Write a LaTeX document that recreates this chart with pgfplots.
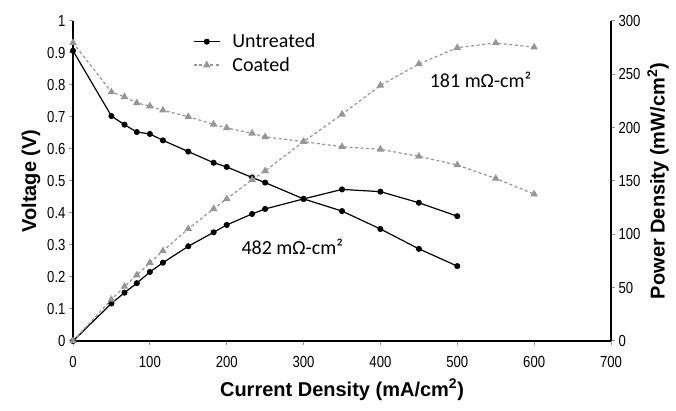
\documentclass[border=0pt]{standalone}
\usepackage{pgfplots}
\pgfplotsset{compat=1.18}
\usepackage{fontspec}
\setmainfont{Liberation Sans}
\newfontfamily\narrowfont[FakeStretch=0.82]{Liberation Sans}
\newfontfamily\carlito{Carlito}
\definecolor{cgray}{RGB}{150,150,150}
\begin{document}
\begin{tikzpicture}
\pgfplotsset{
  every axis/.append style={
    scale only axis, width=538pt, height=320pt,
    xmin=0, xmax=700,
    /pgf/number format/assume math mode=true,
    tick label style={font=\fontsize{16}{16}\selectfont\narrowfont},
    tick align=outside, major tick length=4pt,
    tick style={cgray, line width=1pt},
    axis line style={line width=2.2pt},
    clip=false,
  }
}
\begin{axis}[name=ax,
  axis x line*=bottom, axis y line*=left,
  ymin=0, ymax=1,
  ytick={0,0.1,0.2,0.3,0.4,0.5,0.6,0.7,0.8,0.9,1},
  xtick={0,100,200,300,400,500,600,700},
  xticklabel style={yshift=-8pt},
  xlabel={Current Density (mA/cm\textsuperscript{2})},
  ylabel={Voltage (V)},
  xlabel style={font=\fontsize{20}{20}\selectfont\bfseries, yshift=-4pt},
  ylabel style={font=\fontsize{20}{20}\selectfont\bfseries},
  legend style={draw=none, fill=none, at={(0.223,0.96)}, anchor=north west,
    font=\fontsize{20}{24}\selectfont\carlito, row sep=8pt, inner sep=0pt,
    nodes={inner sep=0pt}},
  legend cell align=left,
  legend image code/.code={\draw[mark repeat=2,mark phase=2,#1] plot coordinates {(0pt,0pt)(13pt,0pt)(26pt,0pt)}; \path (38pt,0pt);},
]
\addplot[black, line width=1.2pt, mark=*, mark size=2.4pt] coordinates {
(0,0.907) (50,0.703) (67,0.676) (83,0.653) (100,0.647) (117,0.627) (150,0.592)
(183,0.557) (200,0.544) (233,0.511) (250,0.495) (300,0.444) (350,0.406)
(400,0.350) (450,0.288) (500,0.234)};
\addlegendentry{Untreated}
\addplot[cgray, line width=1.2pt, dash pattern=on 3pt off 2.5pt, mark=triangle*, mark size=3.2pt, mark options={solid, fill=cgray}] coordinates {
(0,0.932) (50,0.778) (67,0.763) (83,0.744) (100,0.734) (117,0.721) (150,0.701)
(183,0.677) (200,0.666) (233,0.649) (250,0.638) (300,0.623) (350,0.607)
(400,0.599) (450,0.577) (500,0.550) (550,0.508) (600,0.459)};
\addlegendentry{Coated}
\node[anchor=west, inner sep=0pt, font=\fontsize{20}{20}\selectfont\carlito] at (axis cs:219,0.295) {482 mΩ-cm²};
\node[anchor=west, inner sep=0pt, font=\fontsize{20}{20}\selectfont\carlito] at (axis cs:464,0.816) {181 mΩ-cm²};
\end{axis}
\begin{axis}[
  axis x line=none, axis y line*=right,
  ymin=0, ymax=300,
  ytick={0,50,100,150,200,250,300},
  ylabel={Power Density (mW/cm\textsuperscript{2})},
  ylabel style={font=\fontsize{20}{20}\selectfont\bfseries},
]
\addplot[black, line width=1.2pt, mark=*, mark size=2.4pt] coordinates {
(0,0) (50,35.2) (67,45.3) (83,54.2) (100,64.7) (117,73.4) (150,88.8)
(183,101.9) (200,108.8) (233,119.1) (250,123.8) (300,133.2) (350,142.1)
(400,140.0) (450,129.6) (500,117.0)};
\addplot[cgray, line width=1.2pt, dash pattern=on 3pt off 2.5pt, mark=triangle*, mark size=3.2pt, mark options={solid, fill=cgray}] coordinates {
(0,0) (50,38.9) (67,51.1) (83,61.8) (100,73.4) (117,84.4) (150,105.2)
(183,123.9) (200,133.2) (233,151.2) (250,159.5) (300,186.9) (350,212.5)
(400,239.6) (450,259.7) (500,275.0) (550,279.4) (600,275.4)};
\end{axis}
\pgfresetboundingbox
\path ([shift={(-73pt,-70pt)}]ax.south west) rectangle ([shift={(65pt,21pt)}]ax.north east);
\end{tikzpicture}
\end{document}
